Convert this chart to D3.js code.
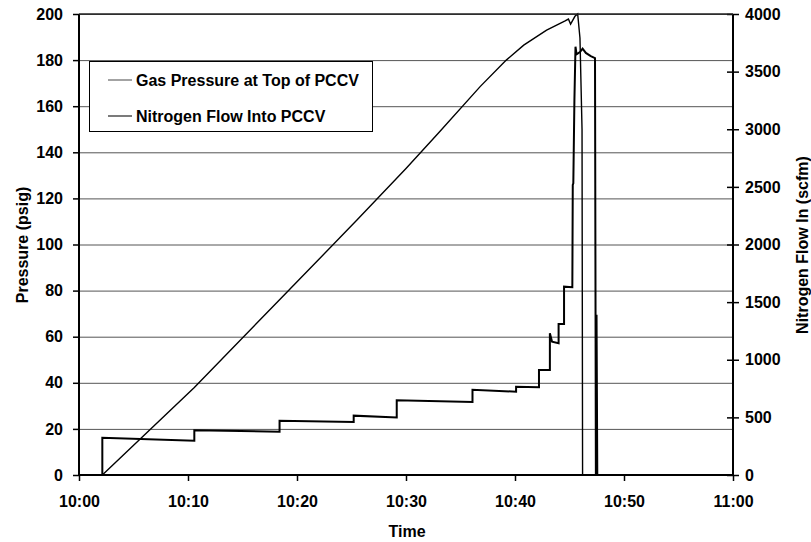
<!DOCTYPE html>
<html>
<head>
<meta charset="utf-8">
<script src="https://cdn.jsdelivr.net/npm/d3@7"></script>
<style>
  html, body { margin: 0; padding: 0; background: #fff; }
  svg { display: block; font-family: "Liberation Sans", Arial, sans-serif; }
</style>
</head>
<body>
<svg id="chart" width="811" height="542"></svg>
<script>
// ---- Data (minutes after 10:00) ----
const timeTicks = [0, 10, 20, 30, 40, 50, 60];
const timeTickLabels = ["10:00", "10:10", "10:20", "10:30", "10:40", "10:50", "11:00"];
const pressureTicks = [0, 20, 40, 60, 80, 100, 120, 140, 160, 180, 200];
const flowTicks = [0, 500, 1000, 1500, 2000, 2500, 3000, 3500, 4000];

const pressureTime = [2.14, 10.58, 18.4, 25.5, 30, 33, 36.8, 39.2, 40.8, 42.9, 44.6, 44.9, 45.1, 45.5, 45.75, 45.96, 46.15, 46.2];
const pressureValue = [0, 38, 76, 110.6, 133, 148.5, 168.5, 180, 186.5, 193, 197, 197.8, 195.6, 199, 200, 189.6, 150, 0];

const flowTime = [2.14, 2.14, 10.58, 10.58, 18.4, 18.4, 25.2, 25.2, 29.15, 29.15, 36.1, 36.1, 40.1, 40.1, 42.2, 42.2, 43.2, 43.2, 43.4, 44.0, 44.0, 44.5, 44.5, 45.26, 45.3, 45.35, 45.45, 45.55, 45.65, 45.96, 46.2, 46.5, 46.95, 47.34, 47.42, 47.48, 47.55, 60];
const flowValue = [0, 324, 298, 388, 376, 470, 460, 515, 500, 648, 633, 740, 723, 766, 761, 911, 911, 1230, 1157, 1143, 1310, 1310, 1634, 1630, 2516, 2530, 3250, 3716, 3650, 3670, 3700, 3662, 3635, 3618, 0, 1390, 0, 0];

const seriesNames = ["Gas Pressure at Top of PCCV", "Nitrogen Flow Into PCCV"];

// ---- Layout ----
const svg = d3.select("#chart");
const L = 79, R = 733, T = 14, B = 475;

const x = d3.scaleLinear().domain([0, 60]).range([L, R]);
const yP = d3.scaleLinear().domain([0, 200]).range([B, T]);
const yF = d3.scaleLinear().domain([0, 4000]).range([B, T]);

// gridlines
svg.append("g").selectAll("line")
  .data(pressureTicks.filter(d => d > 0))
  .join("line")
  .attr("x1", L).attr("x2", R)
  .attr("y1", d => yP(d) + 0.5).attr("y2", d => yP(d) + 0.5)
  .attr("stroke", "#555").attr("stroke-width", 1);

// lines
const pData = pressureTime.map((t, i) => [t, pressureValue[i]]);
const fData = flowTime.map((t, i) => [t, flowValue[i]]);

svg.append("path")
  .datum(pData)
  .attr("fill", "none").attr("stroke", "#000").attr("stroke-width", 1.4)
  .attr("d", d3.line().x(d => x(d[0])).y(d => yP(d[1])));

svg.append("path")
  .datum(fData)
  .attr("fill", "none").attr("stroke", "#000").attr("stroke-width", 2)
  .attr("stroke-linejoin", "miter")
  .attr("d", d3.line().x(d => x(d[0])).y(d => yF(d[1])));

// axes
const fontTick = "bold 16px 'Liberation Sans', Arial, sans-serif";

const gL = svg.append("g").attr("transform", `translate(${L},0)`)
  .call(d3.axisLeft(yP).tickValues(pressureTicks).tickSize(6).tickPadding(10));
const gR = svg.append("g").attr("transform", `translate(${R},0)`)
  .call(d3.axisRight(yF).tickValues(flowTicks).tickSize(6).tickPadding(6).tickFormat(d3.format("d")));
const gB = svg.append("g").attr("transform", `translate(0,${B})`)
  .call(d3.axisBottom(x).tickValues(timeTicks).tickSize(6)
    .tickFormat((d, i) => timeTickLabels[i]));

[gL, gR, gB].forEach(g => {
  g.select(".domain").attr("stroke", "#000").attr("stroke-width", 2);
  g.selectAll(".tick line").attr("stroke", "#000").attr("stroke-width", 1.5);
  g.selectAll(".tick text").style("font", fontTick).attr("fill", "#000");
});
gL.select(".domain").attr("d", `M0,${T}V${B}`);
gR.select(".domain").attr("d", `M0,${T}V${B}`);
gB.select(".domain").attr("d", `M${L},0H${R}`);
gR.selectAll(".tick line").attr("x1", -6).attr("x2", 6);
gB.selectAll(".tick text").attr("y", 32).attr("dy", 0);

// top border
svg.append("line").attr("x1", L).attr("x2", R).attr("y1", T).attr("y2", T)
  .attr("stroke", "#222").attr("stroke-width", 1.5);

// axis titles
svg.append("text").attr("x", 407).attr("y", 537).attr("text-anchor", "middle")
  .style("font", fontTick).text("Time");
svg.append("text").attr("transform", "translate(28,245) rotate(-90)")
  .attr("text-anchor", "middle").style("font", fontTick).text("Pressure (psig)");
svg.append("text").attr("transform", "translate(808,245) rotate(-90)")
  .attr("text-anchor", "middle").style("font", fontTick).text("Nitrogen Flow In (scfm)");

// legend
const lg = svg.append("g");
lg.append("rect").attr("x", 89.5).attr("y", 61.5).attr("width", 283).attr("height", 70)
  .attr("fill", "#fff").attr("stroke", "#000").attr("stroke-width", 1);
const legY = [80, 116];
const legStroke = ["#666", "#222"];
seriesNames.forEach((name, i) => {
  lg.append("line").attr("x1", 108).attr("x2", 132).attr("y1", legY[i]).attr("y2", legY[i])
    .attr("stroke", legStroke[i]).attr("stroke-width", 1.2);
  lg.append("text").attr("x", 136).attr("y", legY[i]).attr("dy", "0.36em")
    .style("font", fontTick).text(name);
});
</script>
</body>
</html>
